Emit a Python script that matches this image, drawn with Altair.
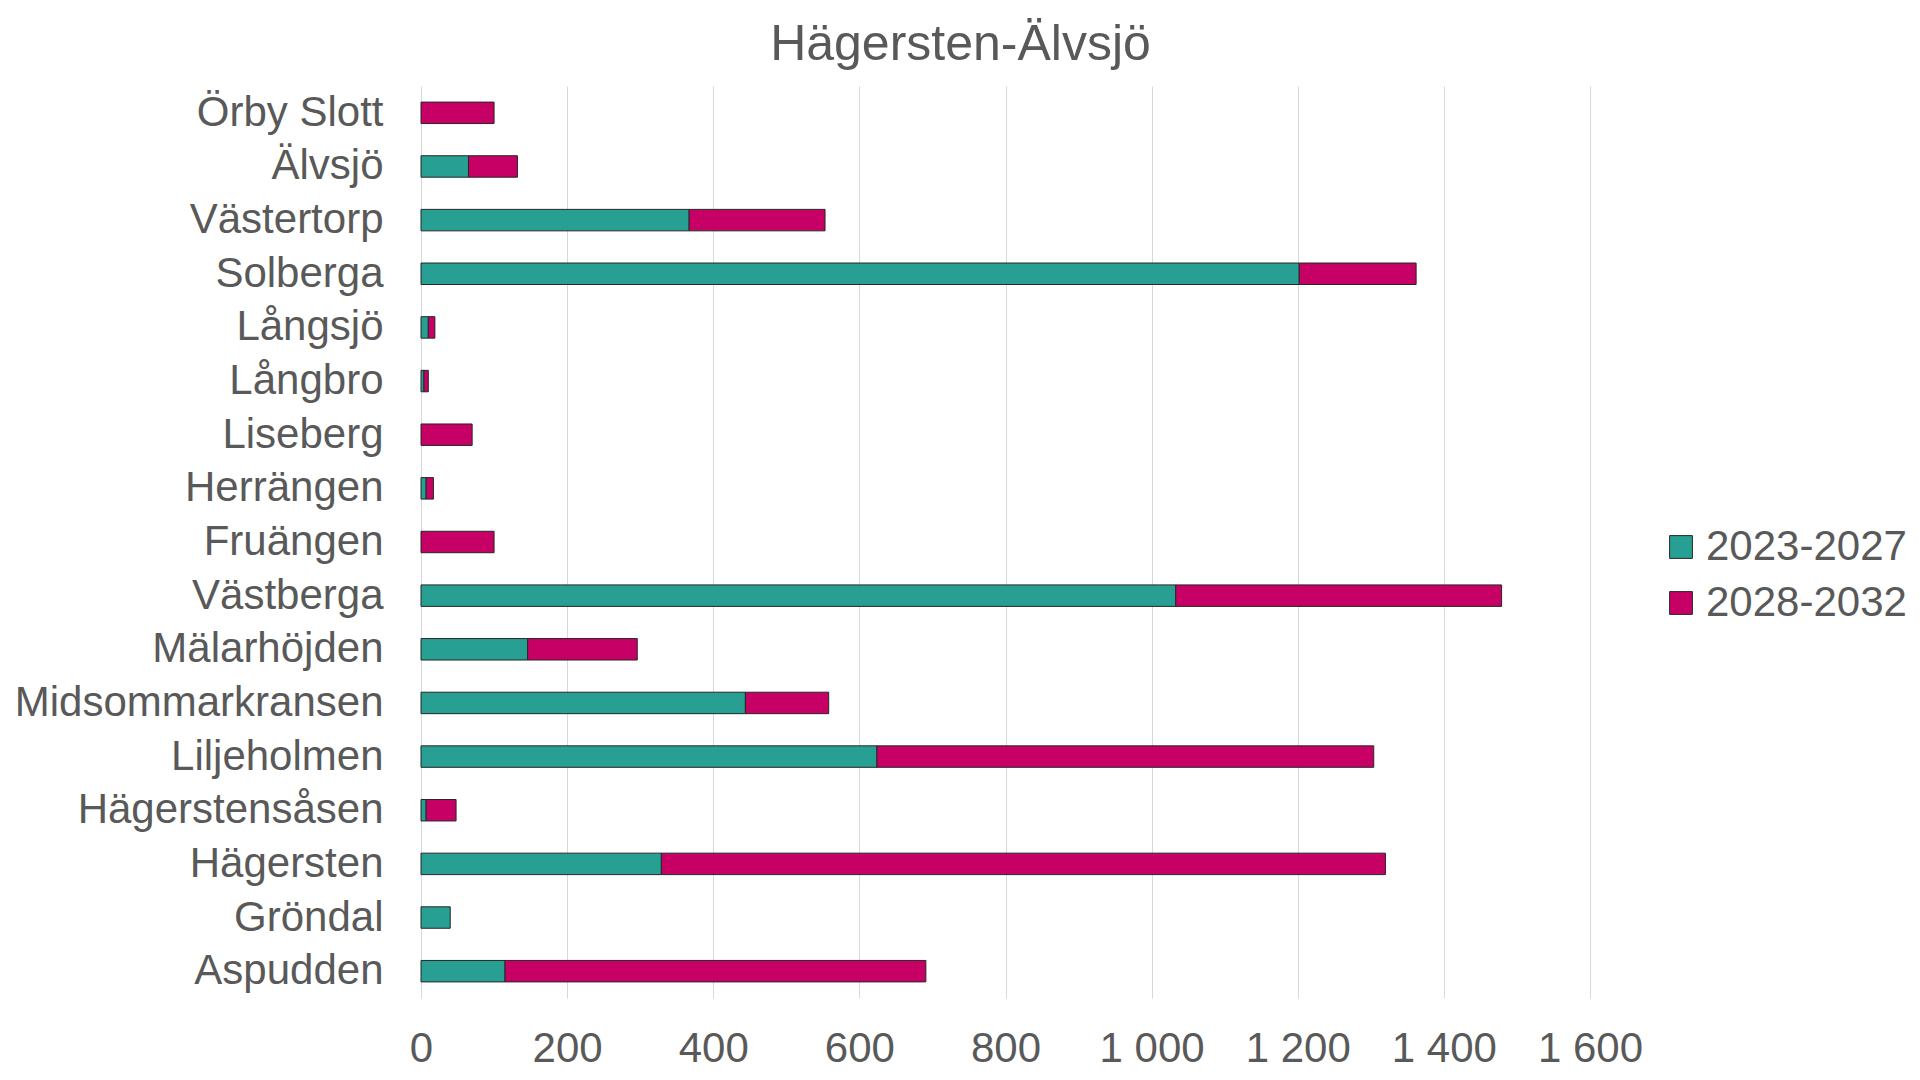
"""
Stacked horizontal bars: planned housing per district in Hägersten-Älvsjö,
split into the periods 2023-2027 and 2028-2032.
"""

import altair as alt
import pandas as pd

# districts, top to bottom as drawn
districts = [
    "Örby Slott", "Älvsjö", "Västertorp", "Solberga", "Långsjö", "Långbro",
    "Liseberg", "Herrängen", "Fruängen", "Västberga", "Mälarhöjden",
    "Midsommarkransen", "Liljeholmen", "Hägerstensåsen", "Hägersten",
    "Gröndal", "Aspudden",
]
period_1 = [0, 65, 367, 1202, 10, 4, 0, 7, 0, 1033, 146, 444, 624, 7, 329, 40, 115]
period_2 = [100, 67, 186, 160, 9, 6, 70, 10, 100, 446, 150, 114, 680, 41, 991, 0, 576]
periods = ["2023-2027", "2028-2032"]
colors = ["#27A093", "#C70066"]
x_ticks = [0, 200, 400, 600, 800, 1000, 1200, 1400, 1600]

c_text = "#595959"
c_font = "Liberation Sans"

rows = []
for i, d in enumerate(districts):
    for p, vals in zip(periods, [period_1, period_2]):
        if vals[i] > 0:
            rows.append({"district": d, "period": p, "value": vals[i]})
df = pd.DataFrame(rows)

bars = alt.Chart(df).mark_bar(stroke="#262626", strokeWidth=1).encode(
    x=alt.X(
        "value:Q",
        stack="zero",
        scale=alt.Scale(domain=[0, 1600], nice=False),
        axis=alt.Axis(
            values=x_ticks,
            labelExpr="replace(format(datum.value, ','), ',', ' ')",
            title=None,
            domain=False,
            ticks=False,
            grid=True,
            gridColor="#D9D9D9",
            gridWidth=1,
            labelFontSize=42,
            labelColor=c_text,
            labelFont=c_font,
            labelPadding=30,
            labelOverlap=False,
            labelFlush=False,
        ),
    ),
    y=alt.Y(
        "district:N",
        sort=districts,
        scale=alt.Scale(paddingInner=0.6, paddingOuter=0.3),
        axis=alt.Axis(
            title=None,
            domain=False,
            ticks=False,
            grid=False,
            labelFontSize=42,
            labelColor=c_text,
            labelFont=c_font,
            labelPadding=38,
            labelLimit=600,
        ),
    ),
    color=alt.Color(
        "period:N",
        scale=alt.Scale(domain=periods, range=colors),
        legend=alt.Legend(
            title=None,
            orient="none",
            legendX=1239,
            legendY=440,
            symbolType="square",
            symbolSize=520,
            symbolStrokeColor="#262626",
            symbolStrokeWidth=1,
            symbolOpacity=1,
            labelFontSize=42,
            labelColor=c_text,
            labelFont=c_font,
            labelOffset=4,
            labelLimit=400,
            rowPadding=14,
            padding=0,
        ),
    ),
    order=alt.Order("period:N"),
)

chart = bars.properties(
    width=1169,
    height=912,
    autosize=alt.AutoSizeParams(type="none"),
    padding={"left": 413, "top": 78, "right": 322, "bottom": 74},
    background="white",
    title=alt.TitleParams(
        "Hägersten-Älvsjö",
        fontSize=50,
        font=c_font,
        fontWeight="normal",
        color=c_text,
        anchor="middle",
        frame="group",
        dx=-45,
        offset=16,
    ),
).configure_view(strokeWidth=0)

chart.save("out.html", embed_options={"renderer": "svg", "actions": False})
